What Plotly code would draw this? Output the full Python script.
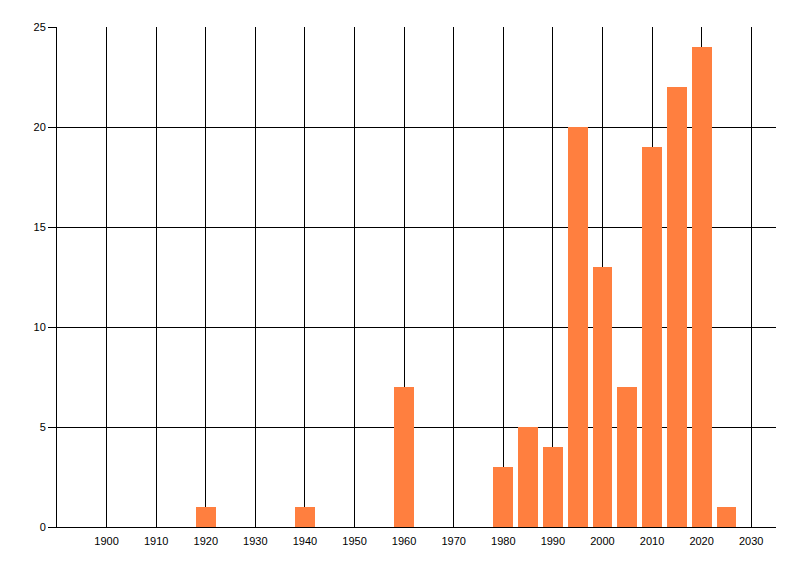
import plotly.graph_objects as go

# bar positions (year) and counts
years = [1920, 1940, 1960, 1980, 1985, 1990, 1995, 2000, 2005, 2010, 2015, 2020, 2025]
counts = [1, 1, 7, 3, 5, 4, 20, 13, 7, 19, 22, 24, 1]

x_ticks = list(range(1900, 2031, 10))
y_ticks = [0, 5, 10, 15, 20, 25]

fig = go.Figure()
fig.add_trace(go.Bar(x=years, y=counts, width=4, marker_color='#FF7F3F',
                     marker_line_width=0, showlegend=False))

fig.update_xaxes(
    range=[1890, 2035],
    tickmode='array',
    tickvals=x_ticks,
    ticktext=[str(t) for t in x_ticks],
    showgrid=True, gridcolor='black', gridwidth=1,
    showline=True, linecolor='black', linewidth=1,
    ticks='', ticklabelstandoff=4,
    zeroline=False,
)
fig.update_yaxes(
    range=[0, 25],
    tickmode='array',
    tickvals=y_ticks,
    showgrid=True, gridcolor='black', gridwidth=1,
    showline=True, linecolor='black', linewidth=1,
    ticks='outside', ticklen=8, tickcolor='black',
    zeroline=False,
)
# page body adds an 8px offset, so margins are trimmed to match
fig.update_layout(
    width=792, height=568,
    margin=dict(l=49, r=24, t=19, b=49),
    plot_bgcolor='white', paper_bgcolor='white',
    font=dict(family='Liberation Sans, Arial, sans-serif', size=11, color='black'),
    bargap=0,
)

fig.write_html("out.html")
